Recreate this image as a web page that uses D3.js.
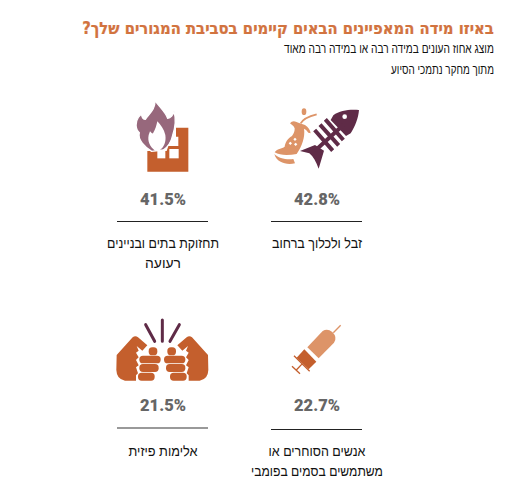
<!DOCTYPE html>
<html lang="he"><head><meta charset="utf-8">
<script src="https://cdn.jsdelivr.net/npm/d3@7"></script>
<style>html,body{margin:0;background:#fff}svg{display:block}text{font-family:"Liberation Sans",sans-serif}</style>
</head><body><svg id="c" width="514" height="503"></svg>
<script>
const titleText="באיזו מידה המאפיינים הבאים קיימים בסביבת המגורים שלך?";
const subtitleLines=["מוצג אחוז העונים במידה רבה או במידה רבה מאוד","מתוך מחקר נתמכי הסיוע"];
const categories=["זבל ולכלוך ברחוב","תחזוקת בתים ובניינים|רעועה","אנשים הסוחרים או|משתמשים בסמים בפומבי","אלימות פיזית"];
const values=[42.8,41.5,22.7,21.5];
const labelWidths=[[90],[112,36],[97,132],[69]];
const iconNames=["fish","fire","syringe","fists"];
const C={orange:"#c45f2d",light:"#dd9468",plum:"#5f2b47",mauve:"#97687c",title:"#d2733f",grey:"#666"};

const svg=d3.select("#c");
const col=d3.scalePoint().domain([1,0]).range([163,317]);
const row=d3.scalePoint().domain([0,1]).range([0,206]);

// condensed Hebrew text: horizontally scaled about its centre to the width seen in the picture
function fitted(cx,y,w,size,fill,txt){
 const t=svg.append("text").attr("text-anchor","middle").attr("direction","rtl").attr("font-size",size).attr("fill",fill).text(txt);
 const k=w/t.node().getComputedTextLength();
 return t.attr("transform",`translate(${cx},${y}) scale(${k},1)`);
}
const title=svg.append("text").attr("text-anchor","middle").attr("direction","rtl").style("font-family","DejaVu Sans").attr("font-size",17).attr("font-weight",700).attr("fill",C.title).attr("stroke",C.title).attr("stroke-width",0.25).text(titleText);
title.attr("transform",`translate(288,34) scale(${412/title.node().getComputedTextLength()},1)`);
[389,442.5].forEach((cx,i)=>fitted(cx,53+i*20.5,i?103:210,13,"#111",subtitleLines[i]));

const icons={
 fire(g){
  g.append("path").attr("fill",C.orange).attr("d","M142,245V183H200L205,168H235V140H228V113H265V245Z");
  g.append("rect").attr("x",172).attr("y",178).attr("width",24).attr("height",27).attr("fill","#fff");
  g.append("rect").attr("x",208).attr("y",177).attr("width",28).attr("height",28).attr("fill","#fff");
  g.append("path").attr("fill",C.mauve).attr("stroke","#fff").attr("stroke-width",4).attr("d","M155,184C135,172 112,150 118,128C105,118 106,95 115,82L124,72C126,82 130,88 136,88C146,72 166,60 165,32C178,50 198,68 203,85C212,84 220,74 222,64C228,85 226,112 218,136C215,150 205,170 190,180Z");
  g.append("path").attr("fill","#fff").attr("d","M165,182C150,170 142,155 146,135L150,124C154,128 156,131 159,130C166,118 170,105 172,94C182,104 192,118 196,135C199,155 192,172 180,180Z");
 },
 fish(g){
  g.append("path").attr("fill",C.plum).attr("d","M297,60C270,58 240,60 220,76L212,90L258,138L272,130C285,110 295,85 297,60ZM120,183L165,165L192,182L176,236C168,215 160,200 148,190Z");
  g.append("path").attr("fill","none").attr("stroke",C.plum).attr("stroke-width",12).attr("d","M250,105L165,182M196,88L250,150M180,104L236,166M164,120L218,182");
  g.append("circle").attr("cx",254).attr("cy",80).attr("r",7).attr("fill","#fff");
  g.append("path").attr("fill",C.light).attr("d","M90,100Q98,88 115,98L135,105Q150,115 152,130L145,128Q138,118 132,116C136,140 126,168 110,192C85,197 60,197 44,187C50,176 66,176 74,170C76,158 82,146 96,138C102,130 104,125 104,115C100,105 95,105 90,100Z");
  g.append("path").attr("fill",C.light).attr("d","M43,192C55,205 80,210 100,207L105,220C80,226 50,218 43,192Z");
  g.append("path").attr("fill","none").attr("stroke",C.light).attr("stroke-width",5).attr("d","M122,100C130,85 150,78 170,73");
  g.append("ellipse").attr("cx",132).attr("cy",65).attr("rx",7).attr("ry",10).attr("fill",C.light);
  g.append("path").attr("fill","#fff").attr("d","M100,148l5,-5l5,5l-5,5ZM86,160l5,-5l5,5l-5,5ZM102,163l5,-5l5,5l-5,5Z");
 },
 syringe(g){
  g.append("path").attr("fill",C.light).attr("d","M112,112L158,63Q172,54 187,66Q203,82 192,98L146,145Z");
  g.append("path").attr("fill",C.orange).attr("d","M103,118L139,155L116,178L80,143Z");
  g.append("path").attr("fill","none").attr("stroke",C.light).attr("stroke-width",4).attr("d","M190,68L212,46");
  g.append("path").attr("fill","none").attr("stroke",C.orange).attr("stroke-width",4).attr("d","M72,137L119,184M95,163L79,180M66,169L90,191");
 },
 fists(g){
  [1,-1].forEach(s=>{
   const h=g.append("g").attr("transform",s<0?"translate(374,0) scale(-1,1)":null);
   h.append("path").attr("fill",C.orange).attr("d","M50,135L98,82Q106,76 114,82L142,106L127,122L110,108L116,122L108,128L116,142L108,150L116,166L108,172L114,190L108,196L108,212L75,212Q50,208 49,180Z");
   [[146,112,26,24],[118,137,64,23],[118,162,58,24],[114,188,50,24]].forEach(r=>h.append("rect").attr("x",r[0]).attr("y",r[1]).attr("width",r[2]).attr("height",r[3]).attr("rx",11).attr("fill",C.orange));
  });
  g.append("path").attr("fill","none").attr("stroke",C.plum).attr("stroke-width",9).attr("stroke-linecap","round").attr("d","M137,44L164,94M187,30V94M238,44L210,94");
 }
};
const origins={fire:[100,90],fish:[260,90],syringe:[270,310],fists:[100,310]};

values.forEach((v,i)=>{
 const x=col(i%2), y=row(Math.floor(i/2));
 const n=iconNames[i];
 icons[n](svg.append("g").attr("transform",`translate(${origins[n]}) scale(${1/3})`));
 svg.append("text").attr("x",x).attr("y",y+205).attr("text-anchor","middle").style("font-family","Roboto").attr("font-size",16.5).attr("font-weight",900).attr("fill",C.grey).text(v.toFixed(1)+"%");
 const last=i===3;
 const ly=last?428:y+221.5+(i>1?2:0);
 svg.append("line").attr("x1",x-46).attr("x2",x+45).attr("y1",ly).attr("y2",ly).attr("stroke",last?"#999":"#222").attr("stroke-width",last?2:1);
 categories[i].split("|").forEach((t,j)=>{
  fitted(x,y+(i>1?250:248)+j*20,labelWidths[i][j],14,"#111",t);
 });
});
</script></body></html>
